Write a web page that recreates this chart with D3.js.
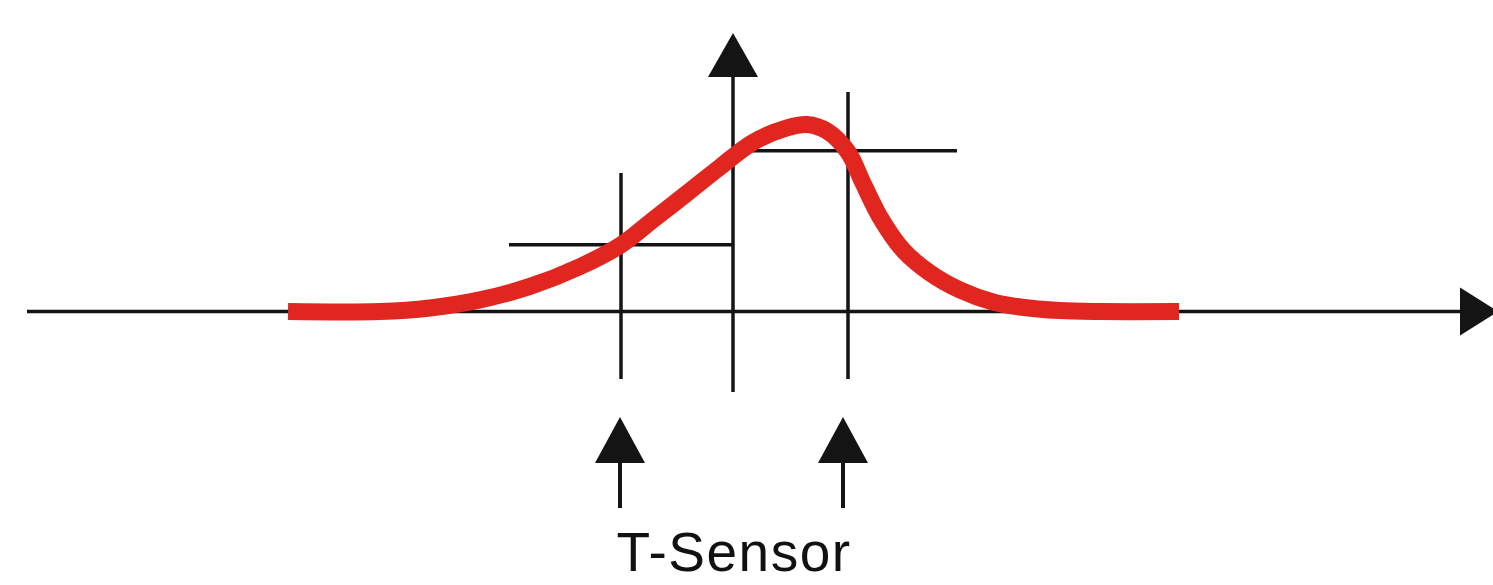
<!DOCTYPE html>
<html>
<head>
<meta charset="utf-8">
<script src="https://cdn.jsdelivr.net/npm/d3@7"></script>
<style>
  html, body { margin: 0; padding: 0; background: #fff; }
  svg { display: block; }
</style>
</head>
<body>
<svg id="chart" width="1493" height="585"></svg>
<script>
// ---- data (time t, relative signal v) ----
const curveT = [-4.45, -3.53, -3.03, -2.53, -2.03, -1.53, -1.12, -0.80, -0.46, -0.13, 0.20, 0.54, 0.74, 0.94, 1.15, 1.30, 1.47, 1.70, 1.97, 2.27, 2.60, 2.87, 3.27, 3.67, 4.46];
const curveV = [0.00, 0.00, 0.019, 0.062, 0.134, 0.240, 0.356, 0.490, 0.632, 0.772, 0.905, 0.982, 1.00, 0.965, 0.853, 0.687, 0.505, 0.329, 0.206, 0.115, 0.051, 0.024, 0.005, 0.00, 0.00];
const sensorT = [-1.12, 1.15];          // vertical marker lines
const sensorLevel = [0.357, 0.859];     // level read at each sensor
const sensorArrowT = [-1.13, 1.10];     // arrows pointing at the sensors
const labelText = "T-Sensor";

// ---- scales ----
const x = d3.scaleLinear().domain([-7.33, 7.60]).range([0, 1493]);
const y = d3.scaleLinear().domain([0, 1]).range([311.5, 124.5]);

const svg = d3.select("#chart");
const black = "#141414";
const red = "#e1251f";

// horizontal (time) axis
const xStart = 27, xArrowBase = 1460, xArrowTip = 1498;
svg.append("line")
  .attr("x1", xStart).attr("x2", xArrowBase + 2)
  .attr("y1", y(0)).attr("y2", y(0))
  .attr("stroke", black).attr("stroke-width", 3.5);
svg.append("path")
  .attr("d", `M${xArrowBase},${y(0) - 24}L${xArrowTip},${y(0)}L${xArrowBase},${y(0) + 24}Z`)
  .attr("fill", black);

// vertical axis at t = 0
const yAxisBottom = 392, yArrowBase = 77, yArrowTip = 33;
svg.append("line")
  .attr("x1", x(0)).attr("x2", x(0))
  .attr("y1", yAxisBottom).attr("y2", yArrowBase - 2)
  .attr("stroke", black).attr("stroke-width", 3.5);
svg.append("path")
  .attr("d", `M${x(0) - 25},${yArrowBase}L${x(0)},${yArrowTip}L${x(0) + 25},${yArrowBase}Z`)
  .attr("fill", black);

// sensor vertical lines
const vTop = [173, 92], vBottom = [379, 379];
svg.selectAll("line.sensor").data(sensorT).join("line")
  .attr("class", "sensor")
  .attr("x1", d => x(d)).attr("x2", d => x(d))
  .attr("y1", (d, i) => vTop[i]).attr("y2", (d, i) => vBottom[i])
  .attr("stroke", black).attr("stroke-width", 3.5);

// level lines
const hStart = [509, x(0)], hEnd = [x(0), 957];
svg.selectAll("line.level").data(sensorLevel).join("line")
  .attr("class", "level")
  .attr("x1", (d, i) => hStart[i]).attr("x2", (d, i) => hEnd[i])
  .attr("y1", d => y(d)).attr("y2", d => y(d))
  .attr("stroke", black).attr("stroke-width", 3.5);

// red curve
const pts = curveT.map((t, i) => [t, curveV[i]]);
const line = d3.line().x(d => x(d[0])).y(d => y(d[1])).curve(d3.curveCatmullRom.alpha(0.5));
svg.append("path")
  .attr("d", line(pts))
  .attr("fill", "none")
  .attr("stroke", red)
  .attr("stroke-width", 17)
  .attr("stroke-linecap", "butt")
  .attr("stroke-linejoin", "round");

// sensor arrows
const aTip = 417, aBase = 463, aStemEnd = 508;
const arrows = svg.selectAll("g.arrow").data(sensorArrowT).join("g").attr("class", "arrow");
arrows.append("path")
  .attr("d", d => `M${x(d) - 25},${aBase}L${x(d)},${aTip}L${x(d) + 25},${aBase}Z`)
  .attr("fill", black);
arrows.append("line")
  .attr("x1", d => x(d)).attr("x2", d => x(d))
  .attr("y1", aBase - 2).attr("y2", aStemEnd)
  .attr("stroke", black).attr("stroke-width", 4);

// label
svg.append("text")
  .attr("x", 734).attr("y", 571)
  .attr("text-anchor", "middle")
  .attr("font-family", "'Liberation Sans', Arial, sans-serif")
  .attr("font-size", 55)
  .attr("letter-spacing", 1.5)
  .attr("fill", "#111")
  .text(labelText);
</script>
</body>
</html>
